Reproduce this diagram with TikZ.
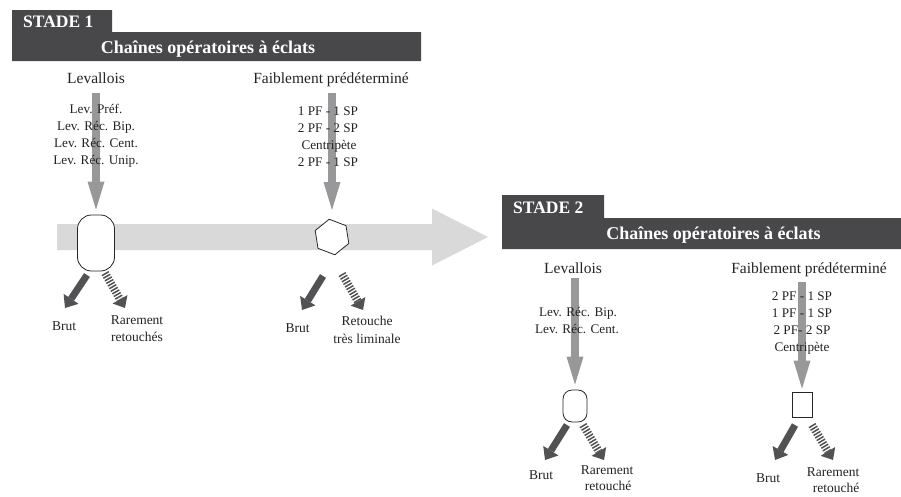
\documentclass[tikz,border=0pt]{standalone}
\usepackage{fontspec}
\setmainfont{Liberation Serif}
\usetikzlibrary{arrows.meta,shapes.geometric}
\definecolor{barcol}{RGB}{72,72,74}
\definecolor{bigarr}{RGB}{217,217,217}
\definecolor{midgray}{RGB}{152,152,154}
\definecolor{darkarr}{RGB}{82,82,84}
\definecolor{txt}{RGB}{35,35,35}
\begin{document}
\begin{tikzpicture}[x=1pt,y=-1pt,
  bartext/.style={text=white, font=\bfseries\fontsize{18}{20}\selectfont, inner sep=0pt, anchor=base},
  stadetext/.style={text=white, font=\bfseries\fontsize{17.5}{20}\selectfont, inner sep=0pt, anchor=base west},
  catlabel/.style={text=txt, font=\fontsize{15.5}{18}\selectfont, inner sep=0pt, anchor=base},
  listtext/.style={text=txt, font=\fontsize{13.2}{16}\selectfont, inner sep=0pt, anchor=base},
  smalllab/.style={text=txt, font=\fontsize{13.5}{16}\selectfont, inner sep=0pt, anchor=base},
  shapebox/.style={draw=black!85, fill=white, line width=0.8pt, inner sep=0pt},
  grayarrow/.style={draw=midgray, line width=8pt, -{Triangle[length=28pt,width=17pt,line width=0pt]}},
  darkarrow/.style={draw=darkarr, line width=7pt, -{Triangle[length=11pt,width=18pt,line width=0pt]}},
  stripearrow/.style={draw=darkarr, line width=8pt, dash pattern=on 1.5pt off 1.5pt, -{Triangle[length=10pt,width=17pt,line width=0pt]}}
]
\useasboundingbox (0,0) rectangle (901,496);

% ---------- STADE 1 header ----------
\fill[barcol] (12,10) -- (112,10) -- (112,32) -- (421,32) -- (421,61) -- (12,61) -- cycle;
\node[stadetext] (stade1) at (23,27) {STADE 1};
\node[bartext] (title1) at (208,53) {Chaînes opératoires à éclats};

% big light arrow
\fill[bigarr] (57,224) -- (432,224) -- (432,208.5) -- (488,237) -- (432,265.5) -- (432,250) -- (57,250) -- cycle;

% category labels stade 1
\node[catlabel] (labA) at (96,83) {Levallois};
\node[catlabel] (labB) at (331,83) {Faiblement prédéterminé};

% shapes stade 1
\node[shapebox, rounded corners=14pt, minimum width=37pt, minimum height=56pt] (shapeA) at (96,243) {};
\node[shapebox, regular polygon, regular polygon sides=6, shape border rotate=39, minimum size=36pt] (shapeB) at (332,237) {};

% vertical arrows stade 1
\draw[grayarrow, shorten >=5pt] (shapeA.north |- labA.base) ++(0,10) -- (shapeA.north);
\draw[grayarrow, shorten >=27pt] (shapeB.center |- labB.base) ++(0,10) -- (shapeB.center);

% lists stade 1
\node[listtext] (la1) at (96,113) {Lev. Préf.};
\node[listtext] (la2) at (96,130) {Lev. Réc. Bip.};
\node[listtext] (la3) at (96,147) {Lev. Réc. Cent.};
\node[listtext] (la4) at (96,164) {Lev. Réc. Unip.};
\node[listtext] (lb1) at (328,115) {1 PF - 1 SP};
\node[listtext] (lb2) at (328,132) {2 PF - 2 SP};
\node[listtext] (lb3) at (329,149) {Centripète};
\node[listtext] (lb4) at (328,166) {2 PF - 1 SP};

% small arrows stade 1
\coordinate (a1s) at (87,275);  \coordinate (a1e) at (65,308);
\coordinate (a2s) at (105,273); \coordinate (a2e) at (125,308);
\coordinate (b1s) at (323,276); \coordinate (b1e) at (302,310);
\coordinate (b2s) at (342,274); \coordinate (b2e) at (363,310);
\draw[darkarrow] (a1s) -- (a1e);
\draw[stripearrow] (a2s) -- (a2e);
\draw[darkarrow] (b1s) -- (b1e);
\draw[stripearrow] (b2s) -- (b2e);

\node[smalllab] (brutA) at (64,330.7) {Brut};
\node[smalllab] (rarA1) at (137,324) {Rarement};
\node[smalllab] (rarA2) at (137,341.7) {retouchés};
\node[smalllab] (brutB) at (297.5,332.7) {Brut};
\node[smalllab] (retB1) at (367,325.7) {Retouche};
\node[smalllab] (retB2) at (367,343.3) {très liminale};

% ---------- STADE 2 header ----------
\fill[barcol] (502,195) -- (604,195) -- (604,218) -- (901,218) -- (901,249) -- (502,249) -- cycle;
\node[stadetext] (stade2) at (513,213) {STADE 2};
\node[bartext] (title2) at (713.5,239) {Chaînes opératoires à éclats};

\node[catlabel] (labC) at (573,273) {Levallois};
\node[catlabel] (labD) at (809,273) {Faiblement prédéterminé};

\node[shapebox, rounded corners=9pt, minimum width=24pt, minimum height=32pt] (shapeC) at (575,406) {};
\node[shapebox, minimum width=20pt, minimum height=25pt] (shapeD) at (802,404.5) {};

\draw[grayarrow, shorten >=5pt] (shapeC.north |- labC.base) ++(0,5) -- (shapeC.north);
\draw[grayarrow, shorten >=3pt] (shapeD.north |- labD.base) ++(0,9) -- (shapeD.north);

\node[listtext] (lc1) at (578,316) {Lev. Réc. Bip.};
\node[listtext] (lc2) at (577,333) {Lev. Réc. Cent.};
\node[listtext] (ld1) at (802,300) {2 PF - 1 SP};
\node[listtext] (ld2) at (802,317) {1 PF - 1 SP};
\node[listtext] (ld3) at (802,334) {2 PF- 2 SP};
\node[listtext] (ld4) at (802,351) {Centripète};

\coordinate (c1s) at (567,425); \coordinate (c1e) at (545,460);
\coordinate (c2s) at (583,425); \coordinate (c2e) at (604,460);
\coordinate (d1s) at (795,425); \coordinate (d1e) at (775,460);
\coordinate (d2s) at (812,425); \coordinate (d2e) at (833,460);
\draw[darkarrow] (c1s) -- (c1e);
\draw[stripearrow] (c2s) -- (c2e);
\draw[darkarrow] (d1s) -- (d1e);
\draw[stripearrow] (d2s) -- (d2e);

\node[smalllab] (brutC) at (541,479.5) {Brut};
\node[smalllab] (rarC1) at (607,474) {Rarement};
\node[smalllab] (rarC2) at (608,490.5) {retouché};
\node[smalllab] (brutD) at (768,482) {Brut};
\node[smalllab] (rarD1) at (833,476) {Rarement};
\node[smalllab] (rarD2) at (836,492) {retouché};
\end{tikzpicture}
\end{document}
